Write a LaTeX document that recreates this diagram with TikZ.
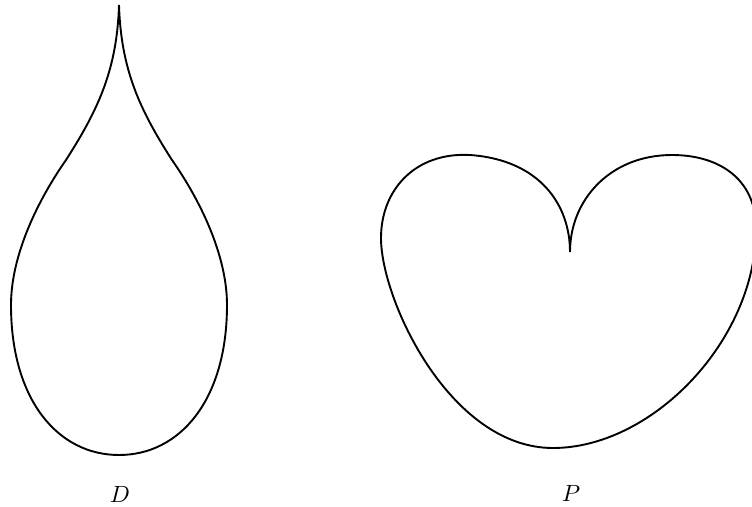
\documentclass[tikz,border=0pt]{standalone}
\begin{document}
\begin{tikzpicture}[x=1pt, y=-1pt, line width=1.9pt, line join=round,
    etiqueta/.style={anchor=base, inner sep=0pt}]
        \useasboundingbox (0,0) rectangle (752,506);

        % Gota
        \draw (119,5) .. controls (121,70) and (140,110) .. (172,160)
            .. controls (200,200) and (227,255) .. (227,305)
            .. controls (227,400) and (180,455) .. (119,455)
            .. controls (58,455) and (11,400) .. (11,305)
            .. controls (11,255) and (38,200) .. (66,160)
            .. controls (98,110) and (117,70) .. (119,5);

        % Corazon
        \draw (570,252) .. controls (570,205) and (540,160) .. (470,155)
            .. controls (415,152) and (381,190) .. (381,238)
            .. controls (381,300) and (450,448) .. (553,448)
            .. controls (650,448) and (752,345) .. (756,235)
            .. controls (759,180) and (720,155) .. (672,155)
            .. controls (610,155) and (570,200) .. (570,252);

        % Etiquetas
        \node[etiqueta] (labD) at (120,502) {\scalebox{2.35}{$D$}};
        \node[etiqueta] (labP) at (571,501) {\scalebox{2.35}{$P$}};
    \end{tikzpicture}
\end{document}
